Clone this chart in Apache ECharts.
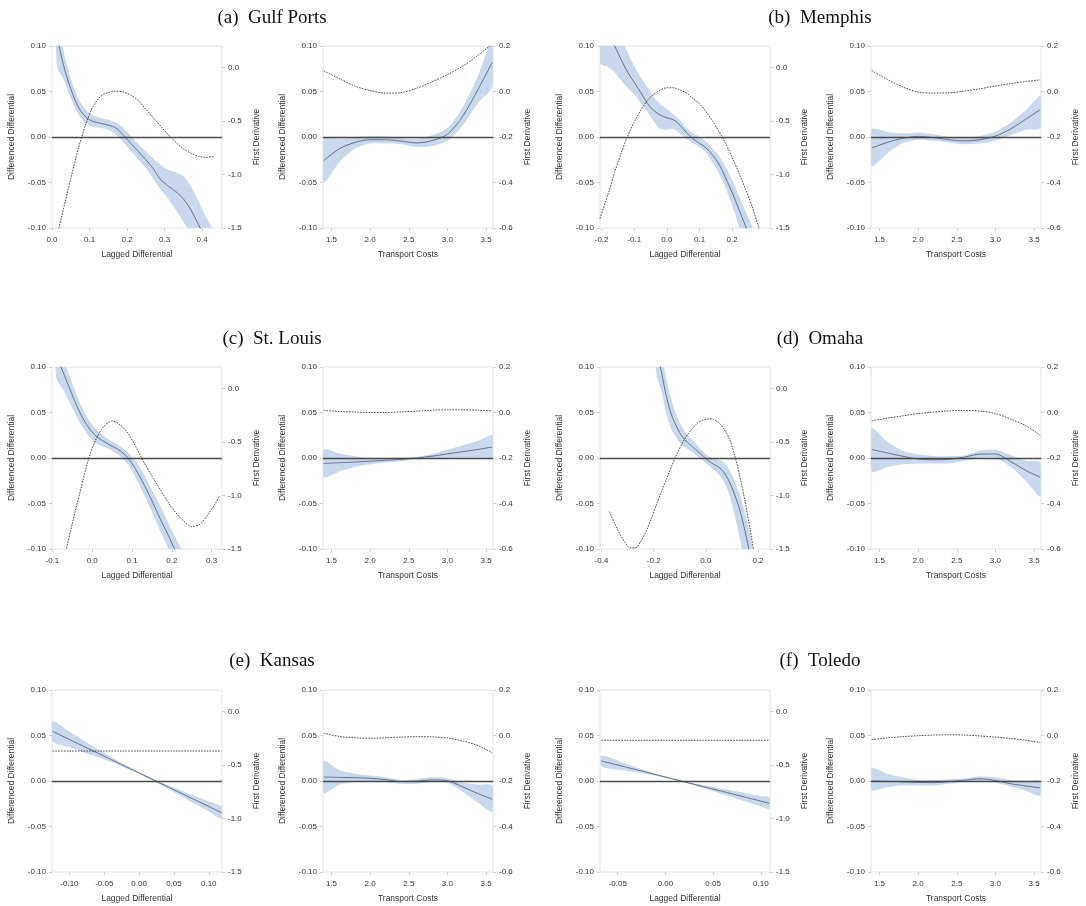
<!DOCTYPE html>
<html>
<head>
<meta charset="utf-8">
<script src="https://cdn.jsdelivr.net/npm/echarts@6/dist/echarts.min.js"></script>
<style>
html, body { margin: 0; background: #fff; }
#main { width: 1086px; height: 906px; }
</style>
</head>
<body>
<div id="main"></div>
<script>
// tick labels
const leftTicks = [-0.1, -0.05, 0, 0.05, 0.1];
const lagRightTicks = [-1.5, -1, -0.5, 0];
const trRightTicks = [-0.6, -0.4, -0.2, 0, 0.2];
const trTicks = [1.5, 2, 2.5, 3, 3.5];

const titles = ['(a)  Gulf Ports', '(b)  Memphis', '(c)  St. Louis', '(d)  Omaha', '(e)  Kansas', '(f)  Toledo'];

// transport cost grid (shared by all right-hand panels)
const trX = [1.40, 1.60, 1.80, 2.00, 2.20, 2.40, 2.60, 2.80, 3.00, 3.20, 3.40, 3.58];

// (a) Gulf Ports
const gulfLagX = [0.013, 0.03, 0.05, 0.07, 0.09, 0.11, 0.13, 0.15, 0.17, 0.19, 0.21, 0.23, 0.25, 0.27, 0.29, 0.31, 0.33, 0.35, 0.37, 0.39, 0.41, 0.43];
const gulfLagMean = [0.112, 0.080, 0.053, 0.033, 0.022, 0.017, 0.015, 0.013, 0.010, 0.002, -0.007, -0.016, -0.025, -0.035, -0.047, -0.054, -0.060, -0.068, -0.080, -0.096, -0.112, -0.128];
const gulfLagUpper = [0.135, 0.096, 0.064, 0.042, 0.030, 0.024, 0.021, 0.019, 0.016, 0.010, 0.001, -0.008, -0.016, -0.024, -0.031, -0.036, -0.039, -0.043, -0.054, -0.070, -0.088, -0.104];
const gulfLagLower = [0.078, 0.064, 0.043, 0.025, 0.015, 0.011, 0.010, 0.008, 0.003, -0.006, -0.015, -0.025, -0.034, -0.046, -0.058, -0.068, -0.080, -0.093, -0.106, -0.122, -0.137, -0.152];
const gulfLagDeriv = [-1.58, -1.33, -1.04, -0.76, -0.53, -0.36, -0.27, -0.235, -0.222, -0.23, -0.26, -0.31, -0.39, -0.47, -0.55, -0.63, -0.70, -0.76, -0.80, -0.83, -0.84, -0.83];
const gulfTrMean = [-0.026, -0.013, -0.006, -0.003, -0.003, -0.0045, -0.0065, -0.004, 0.003, 0.023, 0.053, 0.082];
const gulfTrUpper = [-0.002, -0.002, 0.0, 0.0007, 0.0005, -0.001, -0.002, 0.002, 0.010, 0.033, 0.068, 0.108];
const gulfTrLower = [-0.050, -0.028, -0.013, -0.007, -0.007, -0.008, -0.011, -0.010, -0.004, 0.013, 0.038, 0.055];
const gulfTrDeriv = [0.09, 0.057, 0.024, 0.004, -0.007, -0.005, 0.014, 0.042, 0.074, 0.112, 0.16, 0.21];

// (b) Memphis
const memLagX = [-0.205, -0.18, -0.16, -0.14, -0.12, -0.10, -0.08, -0.06, -0.04, -0.02, 0.0, 0.02, 0.04, 0.06, 0.08, 0.10, 0.12, 0.14, 0.16, 0.18, 0.20, 0.22, 0.24, 0.26, 0.28, 0.30];
const memLagMean = [0.128, 0.113, 0.100, 0.085, 0.071, 0.060, 0.049, 0.037, 0.029, 0.024, 0.021, 0.019, 0.013, 0.005, -0.002, -0.007, -0.012, -0.020, -0.030, -0.045, -0.061, -0.079, -0.097, -0.115, -0.135, -0.155];
const memLagUpper = [0.165, 0.145, 0.128, 0.110, 0.092, 0.078, 0.065, 0.055, 0.044, 0.036, 0.031, 0.025, 0.019, 0.010, 0.004, 0.000, -0.005, -0.013, -0.021, -0.033, -0.047, -0.064, -0.081, -0.097, -0.115, -0.135];
const memLagLower = [0.081, 0.077, 0.071, 0.062, 0.054, 0.047, 0.037, 0.028, 0.017, 0.009, 0.008, 0.009, 0.004, -0.002, -0.007, -0.011, -0.017, -0.028, -0.040, -0.056, -0.075, -0.097, -0.118, -0.138, -0.158, -0.178];
const memLagDeriv = [-1.41, -1.18, -0.98, -0.80, -0.64, -0.51, -0.40, -0.31, -0.25, -0.21, -0.19, -0.19, -0.21, -0.24, -0.29, -0.34, -0.415, -0.50, -0.60, -0.71, -0.84, -0.98, -1.13, -1.29, -1.48, -1.67];
const memTrMean = [-0.012, -0.006, -0.0015, 0.0007, -0.0007, -0.003, -0.0043, -0.003, 0.001, 0.009, 0.020, 0.030];
const memTrUpper = [0.0084, 0.0055, 0.004, 0.005, 0.003, 0.000, -0.001, 0.001, 0.006, 0.016, 0.030, 0.045];
const memTrLower = [-0.032, -0.018, -0.007, -0.003, -0.004, -0.006, -0.008, -0.007, -0.004, 0.002, 0.008, 0.010];
const memTrDeriv = [0.092, 0.053, 0.02, -0.002, -0.007, -0.006, 0.002, 0.012, 0.024, 0.035, 0.044, 0.051];

// (c) St. Louis
const stlLagX = [-0.09, -0.07, -0.05, -0.03, -0.01, 0.01, 0.03, 0.05, 0.07, 0.09, 0.11, 0.13, 0.15, 0.17, 0.19, 0.21, 0.23, 0.25, 0.27, 0.29, 0.31, 0.32];
const stlLagMean = [0.112, 0.091, 0.069, 0.049, 0.034, 0.024, 0.018, 0.013, 0.008, 0.000, -0.013, -0.029, -0.047, -0.066, -0.084, -0.103, -0.122, -0.14, -0.16, -0.18, -0.20, -0.21];
const stlLagUpper = [0.128, 0.105, 0.082, 0.060, 0.043, 0.031, 0.024, 0.018, 0.013, 0.006, -0.004, -0.018, -0.035, -0.052, -0.070, -0.088, -0.106, -0.124, -0.142, -0.16, -0.18, -0.19];
const stlLagLower = [0.088, 0.073, 0.055, 0.038, 0.025, 0.016, 0.012, 0.008, 0.002, -0.007, -0.022, -0.040, -0.059, -0.079, -0.098, -0.118, -0.138, -0.156, -0.176, -0.196, -0.216, -0.226];
const stlLagDeriv = [-1.90, -1.58, -1.26, -0.96, -0.67, -0.47, -0.35, -0.305, -0.34, -0.42, -0.55, -0.69, -0.82, -0.94, -1.06, -1.16, -1.24, -1.29, -1.27, -1.18, -1.07, -1.00];
const stlTrMean = [-0.006, -0.0052, -0.0045, -0.0035, -0.0025, -0.0015, 0.0, 0.002, 0.0045, 0.007, 0.0095, 0.012];
const stlTrUpper = [0.0093, 0.005, 0.002, 0.000, 0.000, 0.0005, 0.0015, 0.0045, 0.009, 0.014, 0.019, 0.025];
const stlTrLower = [-0.021, -0.015, -0.010, -0.007, -0.005, -0.0035, -0.0015, -0.0005, 0.000, 0.0003, 0.0003, -0.0005];
const stlTrDeriv = [0.009, 0.005, 0.002, 0.0, 0.0, 0.003, 0.006, 0.010, 0.012, 0.012, 0.010, 0.007];

// (d) Omaha
const omaLagX = [-0.19, -0.17, -0.15, -0.13, -0.11, -0.09, -0.07, -0.05, -0.03, -0.01, 0.01, 0.03, 0.05, 0.07, 0.09, 0.11, 0.13, 0.15, 0.17, 0.19, 0.21];
const omaLagMean = [0.12, 0.094, 0.066, 0.046, 0.033, 0.023, 0.017, 0.012, 0.007, 0.002, -0.003, -0.007, -0.010, -0.016, -0.026, -0.040, -0.057, -0.08, -0.108, -0.14, -0.175];
const omaLagUpper = [0.15, 0.115, 0.085, 0.062, 0.045, 0.033, 0.025, 0.019, 0.013, 0.007, 0.002, -0.001, -0.002, -0.005, -0.013, -0.025, -0.040, -0.060, -0.085, -0.115, -0.15];
const omaLagLower = [0.093, 0.073, 0.047, 0.030, 0.021, 0.014, 0.010, 0.006, 0.001, -0.003, -0.008, -0.013, -0.018, -0.027, -0.040, -0.062, -0.088, -0.118, -0.15, -0.185, -0.22];
const omaDerivX = [-0.37, -0.35, -0.33, -0.31, -0.29, -0.27, -0.25, -0.23, -0.21, -0.19, -0.17, -0.15, -0.13, -0.11, -0.09, -0.07, -0.05, -0.03, -0.01, 0.01, 0.03, 0.05, 0.07, 0.09, 0.11, 0.13, 0.15, 0.17, 0.19];
const omaLagDeriv = [-1.15, -1.26, -1.36, -1.44, -1.49, -1.49, -1.43, -1.34, -1.22, -1.09, -0.96, -0.84, -0.72, -0.61, -0.51, -0.43, -0.37, -0.32, -0.295, -0.285, -0.29, -0.32, -0.38, -0.47, -0.62, -0.82, -1.05, -1.32, -1.62];
const omaTrMean = [0.0093, 0.0056, 0.0019, -0.0011, -0.0019, -0.0014, 0.001, 0.0042, 0.0044, -0.004, -0.014, -0.021];
const omaTrUpper = [0.033, 0.018, 0.008, 0.004, 0.002, 0.002, 0.003, 0.008, 0.009, 0.003, -0.003, -0.005];
const omaTrLower = [-0.015, -0.010, -0.007, -0.006, -0.006, -0.006, -0.003, 0.000, 0.000, -0.010, -0.026, -0.042];
const omaTrDeriv = [-0.037, -0.025, -0.015, -0.005, 0.002, 0.007, 0.009, 0.006, -0.005, -0.029, -0.059, -0.10];

// (e) Kansas
const kanLagX = [-0.124, -0.1, -0.075, -0.05, -0.025, 0, 0.025, 0.05, 0.075, 0.1, 0.118];
const kanLagMean = [0.0545, 0.0456, 0.0364, 0.0272, 0.018, 0.0088, -0.0004, -0.0096, -0.0189, -0.028, -0.0347];
const kanLagUpper = [0.0655, 0.0541, 0.0424, 0.0309, 0.0198, 0.0098, 0.0008, -0.0071, -0.0149, -0.0225, -0.0281];
const kanLagLower = [0.0435, 0.0371, 0.0304, 0.0235, 0.0162, 0.0078, -0.0016, -0.0121, -0.0229, -0.0335, -0.0413];
const kanLagDeriv = [-0.37, -0.37, -0.37, -0.37, -0.37, -0.37, -0.37, -0.37, -0.37, -0.37, -0.37];
const kanTrMean = [0.0044, 0.004, 0.0036, 0.003, 0.0015, -0.0005, -0.0002, 0.0012, 0.0003, -0.0065, -0.014, -0.020];
const kanTrUpper = [0.022, 0.012, 0.008, 0.006, 0.004, 0.001, 0.002, 0.004, 0.003, -0.002, -0.004, -0.005];
const kanTrLower = [-0.013, -0.004, -0.001, 0.000, -0.001, -0.003, -0.003, -0.001, -0.002, -0.012, -0.024, -0.034];
const kanTrDeriv = [0.01, -0.004, -0.01, -0.012, -0.01, -0.007, -0.005, -0.006, -0.011, -0.024, -0.045, -0.076];

// (f) Toledo
const tolLagX = [-0.067, -0.04, -0.02, 0, 0.02, 0.04, 0.06, 0.08, 0.1, 0.109];
const tolLagMean = [0.022, 0.0149, 0.0096, 0.0043, -0.001, -0.0063, -0.0115, -0.0168, -0.0221, -0.0245];
const tolLagUpper = [0.028, 0.0184, 0.0114, 0.0051, -0.0003, -0.0046, -0.0085, -0.0125, -0.0164, -0.0182];
const tolLagLower = [0.016, 0.0114, 0.0078, 0.0035, -0.0017, -0.008, -0.0145, -0.0211, -0.0278, -0.0308];
const tolLagDeriv = [-0.27, -0.27, -0.27, -0.27, -0.27, -0.27, -0.27, -0.27, -0.27, -0.27];
const tolTrMean = [0.0, -0.0004, -0.0009, -0.0016, -0.0018, -0.0006, 0.0008, 0.0025, 0.0005, -0.003, -0.0055, -0.0075];
const tolTrUpper = [0.014, 0.008, 0.004, 0.001, 0.001, 0.002, 0.003, 0.005, 0.004, 0.001, 0.000, 0.000];
const tolTrLower = [-0.010, -0.007, -0.005, -0.005, -0.005, -0.003, -0.001, 0.000, -0.002, -0.006, -0.011, -0.016];
const tolTrDeriv = [-0.018, -0.011, -0.005, -0.001, 0.002, 0.003, 0.002, -0.002, -0.007, -0.013, -0.021, -0.031];

const FONT = '"Liberation Sans", Arial, sans-serif';
const BAND = '#c9d8ec';
const GRID_LEFT = [52, 323, 600, 871];
const GRID_TOP = [46, 367, 690];
const TITLE_Y = [18, 339, 661];

function lagPanel(xs, mean, upper, lower, dx, deriv, xMin, xMax, xTicks, xDec) {
    return { lag: true, xs, mean, upper, lower, dx, deriv, xMin, xMax, xTicks, xDec };
}
function trPanel(mean, upper, lower, deriv) {
    return { lag: false, xs: trX, mean, upper, lower, dx: trX, deriv, xMin: 1.39, xMax: 3.59, xTicks: trTicks, xDec: 1 };
}

const panels = [
    lagPanel(gulfLagX, gulfLagMean, gulfLagUpper, gulfLagLower, gulfLagX, gulfLagDeriv, 0, 0.453, [0, 0.1, 0.2, 0.3, 0.4], 1),
    trPanel(gulfTrMean, gulfTrUpper, gulfTrLower, gulfTrDeriv),
    lagPanel(memLagX, memLagMean, memLagUpper, memLagLower, memLagX, memLagDeriv, -0.205, 0.316, [-0.2, -0.1, 0, 0.1, 0.2], 1),
    trPanel(memTrMean, memTrUpper, memTrLower, memTrDeriv),
    lagPanel(stlLagX, stlLagMean, stlLagUpper, stlLagLower, stlLagX, stlLagDeriv, -0.101, 0.326, [-0.1, 0, 0.1, 0.2, 0.3], 1),
    trPanel(stlTrMean, stlTrUpper, stlTrLower, stlTrDeriv),
    lagPanel(omaLagX, omaLagMean, omaLagUpper, omaLagLower, omaDerivX, omaLagDeriv, -0.406, 0.246, [-0.4, -0.2, 0, 0.2], 1),
    trPanel(omaTrMean, omaTrUpper, omaTrLower, omaTrDeriv),
    lagPanel(kanLagX, kanLagMean, kanLagUpper, kanLagLower, kanLagX, kanLagDeriv, -0.125, 0.119, [-0.1, -0.05, 0, 0.05, 0.1], 2),
    trPanel(kanTrMean, kanTrUpper, kanTrLower, kanTrDeriv),
    lagPanel(tolLagX, tolLagMean, tolLagUpper, tolLagLower, tolLagX, tolLagDeriv, -0.0686, 0.1096, [-0.05, 0, 0.05, 0.1], 2),
    trPanel(tolTrMean, tolTrUpper, tolTrLower, tolTrDeriv)
];

const pairs = (xs, ys) => xs.map((x, i) => [x, ys[i]]);
const labelStyle = { fontSize: 8, color: '#333', fontFamily: FONT };
const nameStyle = { fontSize: 8.5, color: '#333', fontFamily: FONT };
const tickStyle = { show: true, length: 3, lineStyle: { color: '#d0d0d0', width: 1 } };
const noLine = { show: false, onZero: false };

const grids = [], xAxes = [], yAxes = [], series = [];

panels.forEach((p, i) => {
    const row = Math.floor(i / 4), col = i % 4;
    grids.push({
        left: GRID_LEFT[col], top: GRID_TOP[row], width: 170, height: 182,
        show: true, borderColor: '#e2e2e2', borderWidth: 1, backgroundColor: '#fff'
    });
    xAxes.push({
        gridIndex: i, type: 'value', min: p.xMin, max: p.xMax,
        name: p.lag ? 'Lagged Differential' : 'Transport Costs',
        nameLocation: 'middle', nameGap: 22, nameTextStyle: nameStyle,
        axisLine: noLine, splitLine: { show: false },
        axisTick: Object.assign({ customValues: p.xTicks }, tickStyle),
        axisLabel: Object.assign({ customValues: p.xTicks, margin: 8, formatter: v => v.toFixed(p.xDec) }, labelStyle)
    });
    yAxes.push({
        gridIndex: i, type: 'value', position: 'left', min: -0.1, max: 0.1,
        name: 'Differenced Differential', nameLocation: 'middle', nameRotate: 90, nameGap: 36,
        nameTextStyle: nameStyle,
        axisLine: noLine, splitLine: { show: false },
        axisTick: Object.assign({ customValues: leftTicks }, tickStyle),
        axisLabel: Object.assign({ customValues: leftTicks, margin: 6, formatter: v => v.toFixed(2) }, labelStyle)
    });
    const rTicks = p.lag ? lagRightTicks : trRightTicks;
    yAxes.push({
        gridIndex: i, type: 'value', position: 'right',
        min: p.lag ? -1.5 : -0.6, max: 0.2,
        name: 'First Derivative', nameLocation: 'middle', nameRotate: 90, nameGap: 30,
        nameTextStyle: nameStyle,
        axisLine: noLine, splitLine: { show: false },
        axisTick: Object.assign({ customValues: rTicks }, tickStyle),
        axisLabel: Object.assign({ customValues: rTicks, margin: 6, formatter: v => v.toFixed(1) }, labelStyle)
    });

    // confidence band: one polygon from upper edge then lower edge reversed
    series.push({
        type: 'custom', xAxisIndex: i, yAxisIndex: 2 * i, silent: true, clip: true, z: 1,
        data: p.xs.map((x, k) => [x, p.lower[k], p.upper[k]]),
        encode: { x: 0, y: [1, 2] },
        renderItem: (params, api) => {
            if (params.dataIndex !== 0) return null;
            const top = p.xs.map((x, k) => api.coord([x, p.upper[k]]));
            const bottom = p.xs.map((x, k) => api.coord([x, p.lower[k]])).reverse();
            const cs = params.coordSys;
            return {
                type: 'group',
                clipPath: { type: 'rect', shape: { x: cs.x, y: cs.y, width: cs.width, height: cs.height } },
                children: [{
                    type: 'polygon',
                    shape: { points: top.concat(bottom), smooth: 0.25 },
                    style: { fill: BAND }
                }]
            };
        }
    });

    const common = { type: 'line', xAxisIndex: i, symbol: 'none', smooth: 0.3, silent: true };
    series.push(Object.assign({}, common, {
        yAxisIndex: 2 * i, data: pairs(p.xs, p.mean),
        lineStyle: { color: '#65728a', width: 1 }, z: 3,
        markLine: {
            silent: true, symbol: 'none', label: { show: false },
            lineStyle: { color: '#4a4a4a', width: 1.4, type: 'solid' },
            data: [{ yAxis: 0 }]
        }
    }));
    series.push(Object.assign({}, common, {
        yAxisIndex: 2 * i + 1, data: pairs(p.dx, p.deriv),
        lineStyle: { color: '#1a1a1a', width: 0.8, type: [1.6, 1.2] }, z: 4
    }));
});

const graphics = titles.map((t, k) => ({
    type: 'text', x: k % 2 === 0 ? 272 : 820, y: TITLE_Y[Math.floor(k / 2)],
    style: { text: t, fontSize: 19, fontFamily: '"Liberation Serif", "Times New Roman", serif', fill: '#111', align: 'center', verticalAlign: 'middle' }
}));

const chart = echarts.init(document.getElementById('main'), null, { renderer: 'canvas' });
chart.setOption({
    animation: false,
    backgroundColor: '#fff',
    graphic: { elements: graphics },
    grid: grids,
    xAxis: xAxes,
    yAxis: yAxes,
    series: series
});
</script>
</body>
</html>
